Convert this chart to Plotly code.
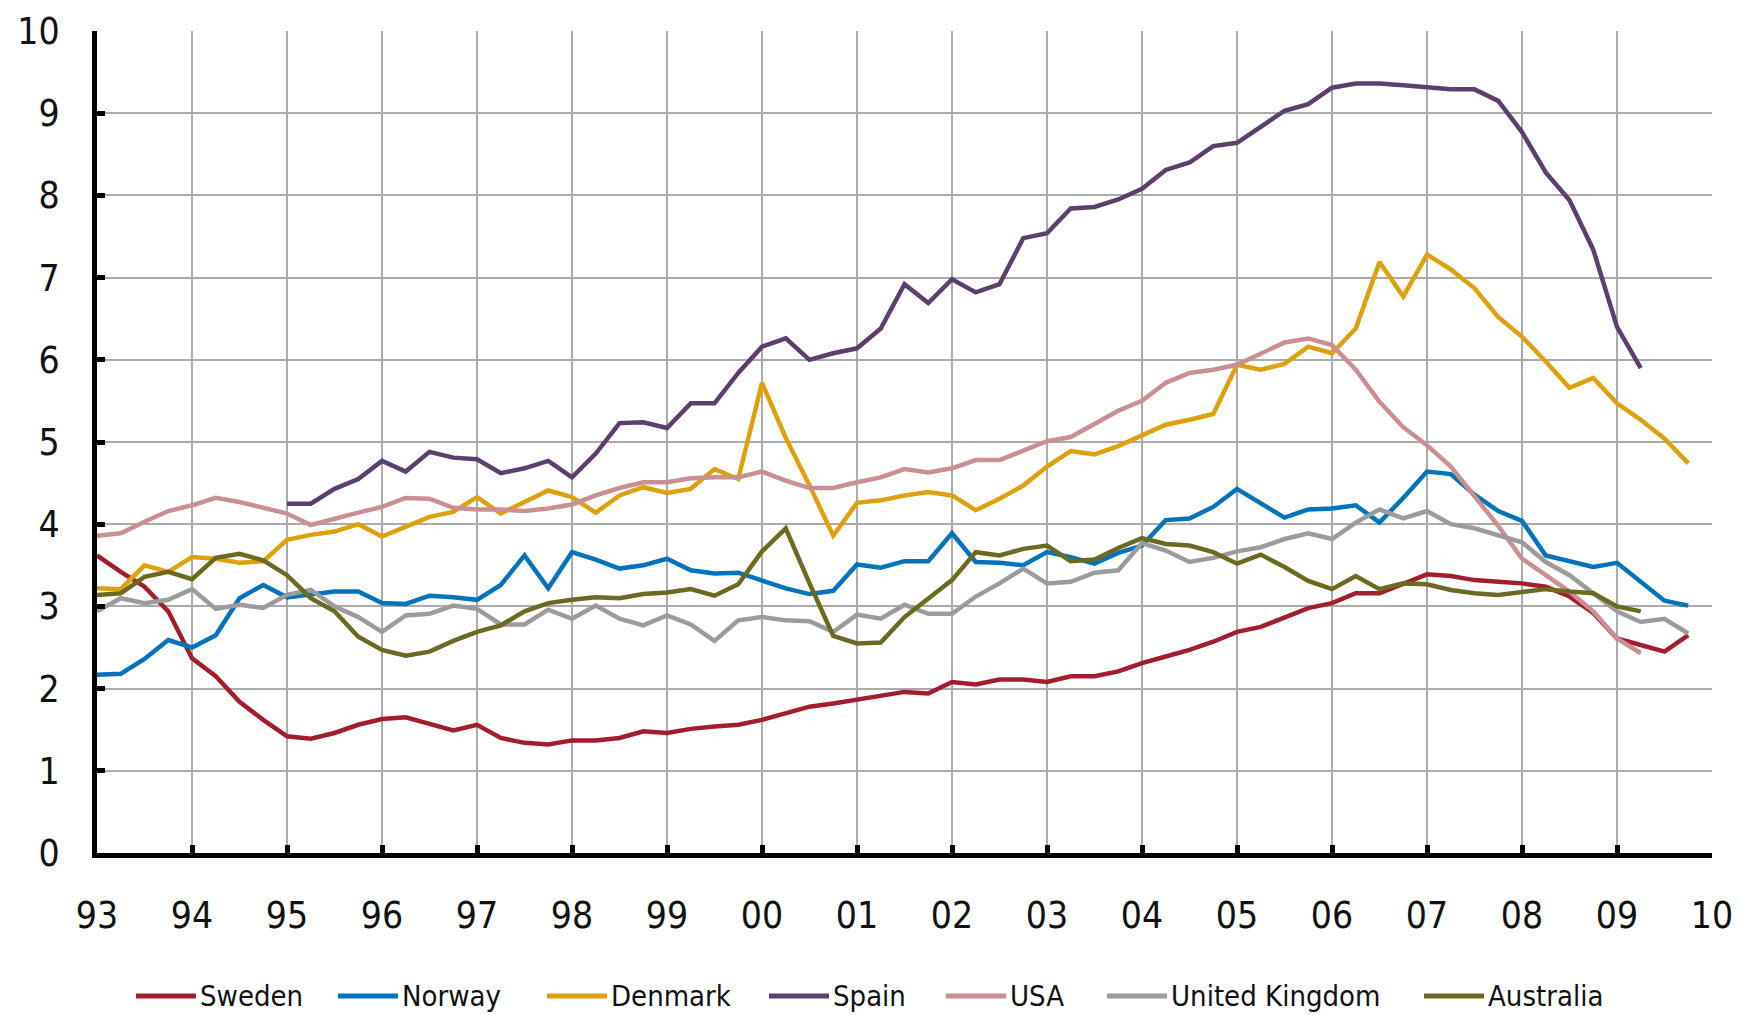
import plotly.graph_objects as go

# Quarterly data 1993Q1 .. 2009Q4
years = list(range(1993, 2010))
year_ticks = list(range(1993, 2011))
tick_text = ["93", "94", "95", "96", "97", "98", "99", "00", "01", "02",
             "03", "04", "05", "06", "07", "08", "09", "10"]

sweden = [3.62, 3.42, 3.24, 2.94, 2.37, 2.15, 1.84, 1.62, 1.42, 1.39, 1.46, 1.56,
          1.63, 1.65, 1.57, 1.49, 1.56, 1.40, 1.34, 1.32, 1.37, 1.37, 1.40, 1.48,
          1.46, 1.51, 1.54, 1.56, 1.62, 1.70, 1.78, 1.82, 1.87, 1.91, 1.96, 1.94,
          2.08, 2.05, 2.11, 2.11, 2.08, 2.15, 2.15, 2.21, 2.31, 2.39, 2.47, 2.57,
          2.69, 2.75, 2.87, 2.98, 3.04, 3.16, 3.16, 3.28, 3.39, 3.37, 3.32, 3.30,
          3.28, 3.24, 3.12, 2.92, 2.61, 2.53, 2.45, 2.65]

norway = [2.17, 2.18, 2.36, 2.59, 2.50, 2.65, 3.10, 3.26, 3.11, 3.15, 3.18, 3.18,
          3.04, 3.03, 3.13, 3.11, 3.08, 3.26, 3.62, 3.22, 3.66, 3.57, 3.46, 3.50,
          3.58, 3.44, 3.40, 3.41, 3.32, 3.22, 3.15, 3.19, 3.51, 3.47, 3.55, 3.55,
          3.89, 3.54, 3.53, 3.50, 3.66, 3.60, 3.52, 3.65, 3.74, 4.05, 4.07, 4.21,
          4.43, 4.25, 4.08, 4.18, 4.19, 4.23, 4.02, 4.32, 4.64, 4.61, 4.36, 4.16,
          4.04, 3.62, 3.55, 3.48, 3.53, 3.30, 3.07, 3.01]

denmark = [3.22, 3.21, 3.50, 3.42, 3.60, 3.58, 3.53, 3.55, 3.81, 3.87, 3.91, 4.00,
           3.85, 3.97, 4.09, 4.15, 4.33, 4.13, 4.27, 4.41, 4.33, 4.14, 4.35, 4.45,
           4.38, 4.43, 4.67, 4.55, 5.72, 5.05, 4.47, 3.86, 4.26, 4.29, 4.35, 4.39,
           4.35, 4.17, 4.31, 4.47, 4.70, 4.89, 4.85, 4.95, 5.08, 5.21, 5.27, 5.34,
           5.94, 5.88, 5.95, 6.16, 6.08, 6.38, 7.19, 6.77, 7.28, 7.10, 6.87, 6.52,
           6.28, 5.98, 5.66, 5.78, 5.47, 5.27, 5.04, 4.74]

spain = [None] * 8 + [
         4.25, 4.25, 4.43, 4.55, 4.77, 4.64, 4.88, 4.81, 4.79, 4.62, 4.68, 4.77,
         4.57, 4.86, 5.23, 5.24, 5.17, 5.47, 5.47, 5.84, 6.16, 6.26, 6.00, 6.08,
         6.14, 6.38, 6.92, 6.69, 6.98, 6.82, 6.92, 7.48, 7.54, 7.84, 7.86, 7.95,
         8.08, 8.31, 8.40, 8.60, 8.64, 8.83, 9.03, 9.11, 9.31, 9.36, 9.36, 9.34,
         9.32, 9.29, 9.29, 9.15, 8.77, 8.28, 7.94, 7.34, 6.40, 5.90] + [None] * 2

usa = [3.86, 3.89, 4.03, 4.16, 4.23, 4.32, 4.27, 4.20, 4.13, 3.99, 4.07, 4.14,
       4.21, 4.32, 4.31, 4.20, 4.18, 4.18, 4.16, 4.19, 4.24, 4.35, 4.44, 4.51,
       4.51, 4.56, 4.57, 4.57, 4.64, 4.53, 4.44, 4.44, 4.51, 4.57, 4.67, 4.63,
       4.68, 4.78, 4.78, 4.90, 5.01, 5.06, 5.22, 5.38, 5.50, 5.72, 5.84, 5.88,
       5.94, 6.08, 6.21, 6.26, 6.18, 5.88, 5.49, 5.18, 4.96, 4.70, 4.35, 3.98,
       3.58, 3.38, 3.18, 2.94, 2.61, 2.43, None, None]

uk = [2.94, 3.10, 3.04, 3.08, 3.21, 2.97, 3.02, 2.98, 3.14, 3.20, 3.00, 2.87,
      2.69, 2.89, 2.91, 3.01, 2.97, 2.78, 2.78, 2.96, 2.85, 3.01, 2.85, 2.77,
      2.89, 2.78, 2.58, 2.83, 2.87, 2.83, 2.82, 2.69, 2.90, 2.85, 3.02, 2.91,
      2.91, 3.12, 3.28, 3.46, 3.28, 3.30, 3.41, 3.44, 3.77, 3.68, 3.54, 3.59,
      3.67, 3.72, 3.82, 3.89, 3.82, 4.02, 4.18, 4.07, 4.16, 4.00, 3.95, 3.87,
      3.78, 3.54, 3.38, 3.16, 2.94, 2.81, 2.85, 2.67]

australia = [3.14, 3.16, 3.36, 3.42, 3.33, 3.59, 3.64, 3.56, 3.38, 3.10, 2.94, 2.63,
             2.47, 2.40, 2.45, 2.58, 2.69, 2.77, 2.94, 3.04, 3.08, 3.11, 3.10, 3.15,
             3.17, 3.21, 3.13, 3.27, 3.67, 3.95, 3.28, 2.64, 2.55, 2.56, 2.87, 3.10,
             3.32, 3.66, 3.62, 3.70, 3.74, 3.55, 3.57, 3.71, 3.83, 3.76, 3.74, 3.66,
             3.52, 3.63, 3.48, 3.31, 3.21, 3.37, 3.21, 3.28, 3.27, 3.20, 3.16, 3.14,
             3.17, 3.21, 3.18, 3.16, 3.00, 2.94, None, None]

x = [y + q / 4 for y in years for q in range(4)]

series = [
    ("Sweden", sweden, "#A31E2C"),
    ("Norway", norway, "#0073BA"),
    ("Denmark", denmark, "#DDA20B"),
    ("Spain", spain, "#5D3F6D"),
    ("USA", usa, "#CB8E93"),
    ("United Kingdom", uk, "#9B9B9B"),
    ("Australia", australia, "#6C6A20"),
]

FONT = "DejaVu Sans Condensed, Noto Sans, sans-serif"

W, H = 1739, 1015
ML, MR, MT, MB = 97, 27, 31, 162
PW, PH = W - ML - MR, H - MT - MB

fig = go.Figure()
for name, vals, color in series:
    fig.add_trace(go.Scatter(x=x, y=vals, mode="lines", name=name,
                             line=dict(color=color, width=4.5),
                             connectgaps=False, showlegend=False))

axis_common = dict(
    showgrid=True, gridcolor="#ababab", gridwidth=1.5,
    showline=True, linecolor="black", linewidth=5,
    ticks="inside", ticklen=8, tickwidth=5, tickcolor="black",
    zeroline=False,
)

fig.update_xaxes(range=[1993, 2010], tickvals=year_ticks, ticktext=tick_text,
                 tickfont=dict(size=37, color="#111111", family=FONT),
                 ticklabelstandoff=26, **axis_common)
fig.update_yaxes(range=[0, 10], tick0=0, dtick=1,
                 tickfont=dict(size=37, color="#111111", family=FONT),
                 ticklabelstandoff=25, **axis_common)

# Custom legend (long line samples, text right after), laid out in pixels
legend_start_px = [136, 338, 547, 769, 946, 1107, 1424]
sample_len_px = 60
legend_y_px = 996


def px_x(p):
    return (p - ML) / PW


def px_y(p):
    return (H - MB - p) / PH


shapes = []
annotations = []
for (name, _, color), start in zip(series, legend_start_px):
    shapes.append(dict(type="line", xref="paper", yref="paper",
                       x0=px_x(start), x1=px_x(start + sample_len_px),
                       y0=px_y(legend_y_px), y1=px_y(legend_y_px),
                       line=dict(color=color, width=5)))
    annotations.append(dict(text=name, xref="paper", yref="paper",
                            x=px_x(start + sample_len_px + 2), y=px_y(legend_y_px),
                            xanchor="left", yanchor="middle", showarrow=False,
                            font=dict(size=29, family=FONT, color="#111111")))

fig.update_layout(
    width=W, height=H,
    margin=dict(l=ML, r=MR, t=MT, b=MB, autoexpand=False),
    plot_bgcolor="white", paper_bgcolor="white",
    font=dict(family=FONT, color="#111111"),
    showlegend=False,
    shapes=shapes,
    annotations=annotations,
)

fig.write_html("out.html")
